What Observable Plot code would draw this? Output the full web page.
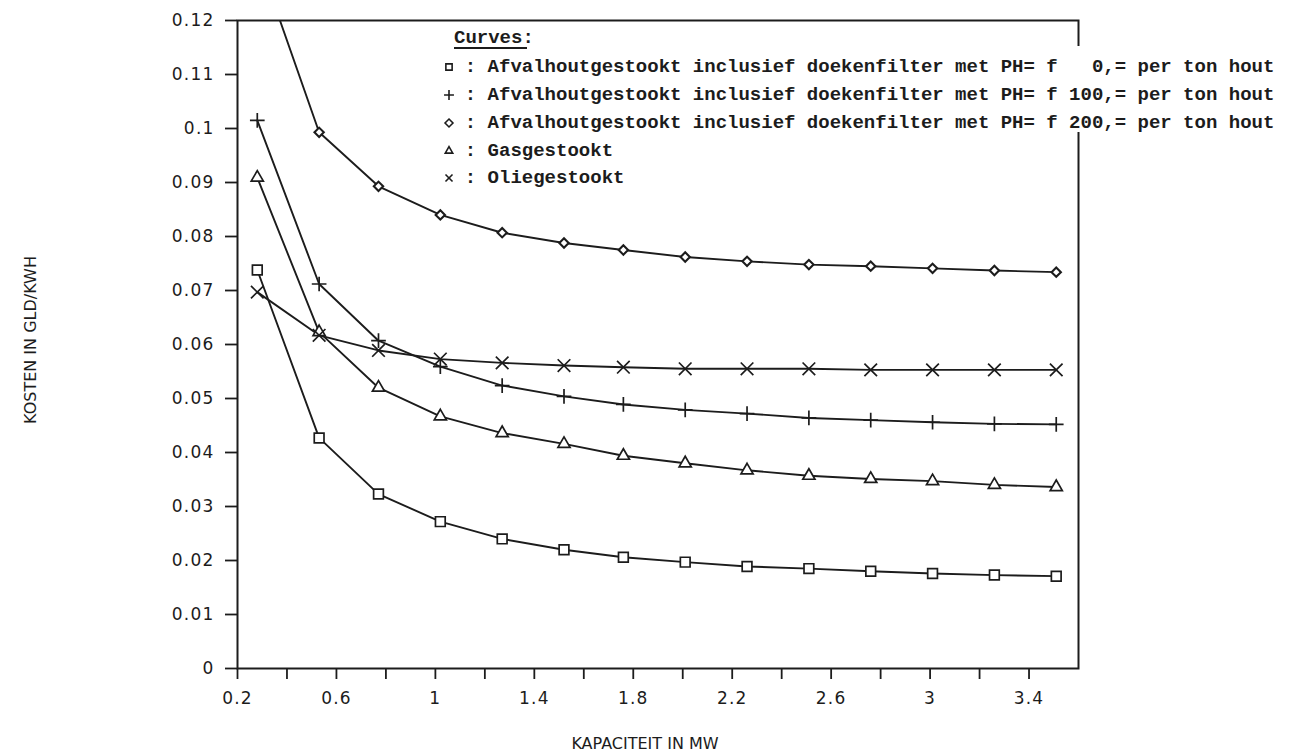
<!DOCTYPE html>
<html>
<head>
<meta charset="utf-8">
<script src="https://cdn.jsdelivr.net/npm/d3@7"></script>
<script src="https://cdn.jsdelivr.net/npm/@observablehq/plot@0.6"></script>
<style>
  body { margin: 0; background: #ffffff; }
  #chart svg { display: block; }
</style>
</head>
<body>
<div id="chart"></div>
<script>
// ---- data ----
const capacity = [0.28, 0.53, 0.77, 1.02, 1.27, 1.52, 1.76, 2.01, 2.26, 2.51, 2.76, 3.01, 3.26, 3.51];

const costPH0   = [0.0738, 0.0427, 0.0323, 0.0272, 0.0240, 0.0220, 0.0206, 0.0197, 0.0189, 0.0185, 0.0180, 0.0176, 0.0173, 0.0171];
const costPH100 = [0.1015, 0.0712, 0.0607, 0.0559, 0.0524, 0.0504, 0.0489, 0.0479, 0.0472, 0.0464, 0.0460, 0.0456, 0.0453, 0.0452];
const costPH200 = [0.1320, 0.0993, 0.0893, 0.0840, 0.0807, 0.0788, 0.0775, 0.0762, 0.0754, 0.0748, 0.0745, 0.0741, 0.0737, 0.0734];
const costGas   = [0.0909, 0.0623, 0.0520, 0.0467, 0.0436, 0.0416, 0.0394, 0.0380, 0.0367, 0.0357, 0.0351, 0.0347, 0.0340, 0.0336];
const costOlie  = [0.0697, 0.0617, 0.0589, 0.0573, 0.0566, 0.0561, 0.0558, 0.0555, 0.0555, 0.0555, 0.0553, 0.0553, 0.0553, 0.0553];

const seriesKeys = ["PH0", "PH100", "PH200", "Gas", "Olie"];
const seriesLabels = [
  "Afvalhoutgestookt inclusief doekenfilter met PH= f   0,= per ton hout",
  "Afvalhoutgestookt inclusief doekenfilter met PH= f 100,= per ton hout",
  "Afvalhoutgestookt inclusief doekenfilter met PH= f 200,= per ton hout",
  "Gasgestookt",
  "Oliegestookt"
];
const legendTitle = "Curves:";

const yTicks = [0, 0.01, 0.02, 0.03, 0.04, 0.05, 0.06, 0.07, 0.08, 0.09, 0.1, 0.11, 0.12];
const yTickLabels = ["0", "0.01", "0.02", "0.03", "0.04", "0.05", "0.06", "0.07", "0.08", "0.09", "0.1", "0.11", "0.12"];
const xTicks = [0.2, 0.4, 0.6, 0.8, 1.0, 1.2, 1.4, 1.6, 1.8, 2.0, 2.2, 2.4, 2.6, 2.8, 3.0, 3.2, 3.4];
const xTickLabels = ["0.2", "", "0.6", "", "1", "", "1.4", "", "1.8", "", "2.2", "", "2.6", "", "3", "", "3.4"];

const xLabel = "KAPACITEIT IN MW";
const yLabel = "KOSTEN IN GLD/KWH";

// ---- build table ----
const seriesValues = [costPH0, costPH100, costPH200, costGas, costOlie];
const seriesStyle = {
  PH0:   {symbol: "square2",   r: 6.2, fill: "white", sw: 1.7, legendSize: 50},
  PH100: {symbol: "plus",      r: 4.8, fill: "none",  sw: 1.7, legendSize: 34},
  PH200: {symbol: "diamond2",  r: 4.2, fill: "white", sw: 2.1, legendSize: 40},
  Gas:   {symbol: "triangle2", r: 5.8, fill: "white", sw: 1.7, legendSize: 40},
  Olie:  {symbol: "times",     r: 5.8, fill: "none",  sw: 1.7, legendSize: 34}
};
const rows = seriesKeys.flatMap((k, s) =>
  capacity.map((c, i) => ({series: k, capacity: c, cost: seriesValues[s][i]})));

const ink = "#1c1c1c";

const plot = Plot.plot({
  width: 1291,
  height: 753,
  marginLeft: 237,
  marginRight: 213,
  marginTop: 20,
  marginBottom: 85,
  x: {domain: [0.2, 3.6]},
  y: {domain: [0, 0.12]},
  style: {fontFamily: "DejaVu Sans, sans-serif", color: ink, background: "white"},
  marks: [
    Plot.axisY({ticks: yTicks, tickFormat: d => yTickLabels[yTicks.indexOf(d)], tickSize: 12, tickPadding: 11,
      label: null, stroke: ink, strokeWidth: 1.8, fontSize: 17}),
    Plot.axisX({ticks: xTicks, tickFormat: d => xTickLabels[xTicks.indexOf(d)], tickSize: 11, tickPadding: 12,
      label: null, stroke: ink, strokeWidth: 1.8, fontSize: 17}),
    ...seriesKeys.map(k => Plot.line(rows.filter(d => d.series === k),
      {x: "capacity", y: "cost", stroke: ink, strokeWidth: 1.9, clip: true})),
    ...seriesKeys.map(k => Plot.dot(rows.filter(d => d.series === k),
      {x: "capacity", y: "cost", symbol: seriesStyle[k].symbol, r: seriesStyle[k].r,
       fill: seriesStyle[k].fill, stroke: ink, strokeWidth: seriesStyle[k].sw, clip: true})),
    Plot.frame({stroke: ink, strokeWidth: 2})
  ]
});

document.getElementById("chart").appendChild(plot);
const svg = d3.select(plot);

// tick label letter spacing (plotter font is wide)
svg.selectAll('g[aria-label="y-axis tick label"] text, g[aria-label="x-axis tick label"] text')
  .attr("letter-spacing", "1.2px");

// axis titles
svg.append("text")
  .attr("x", 645).attr("y", 749)
  .attr("text-anchor", "middle")
  .attr("font-family", "DejaVu Sans, sans-serif")
  .attr("font-size", 16)
  .attr("fill", ink)
  .text(xLabel);

svg.append("text")
  .attr("transform", "translate(36,340) rotate(-90)")
  .attr("text-anchor", "middle")
  .attr("font-family", "DejaVu Sans, sans-serif")
  .attr("font-size", 16)
  .attr("fill", ink)
  .text(yLabel);

// legend
const lg = svg.append("g")
  .attr("font-family", "Liberation Mono, DejaVu Sans Mono, monospace")
  .attr("font-size", 19)
  .attr("font-weight", "bold")
  .attr("text-anchor", "start")
  .attr("fill", ink);

lg.append("rect").attr("x", 1060).attr("y", 46).attr("width", 230).attr("height", 86).attr("fill", "white");

lg.append("text").attr("x", 454).attr("y", 43).style("white-space", "pre").text(legendTitle);
lg.append("line").attr("x1", 454).attr("x2", 527).attr("y1", 48).attr("y2", 48)
  .attr("stroke", ink).attr("stroke-width", 1.8);

const rowY = [67, 95, 123, 151, 178];
const legendSymbols = {square2: d3.symbolSquare2, plus: d3.symbolPlus, diamond2: d3.symbolDiamond2,
  triangle2: d3.symbolTriangle2, times: d3.symbolTimes};
seriesKeys.forEach((k, i) => {
  const st = seriesStyle[k];
  lg.append("path")
    .attr("transform", `translate(449,${rowY[i]})`)
    .attr("d", d3.symbol(legendSymbols[st.symbol], st.legendSize)())
    .attr("fill", "none").attr("stroke", ink).attr("stroke-width", 1.6);
  lg.append("text")
    .attr("x", 442).attr("y", rowY[i] + 5)
    .style("white-space", "pre")
    .text("  : " + seriesLabels[i]);
});
</script>
</body>
</html>
